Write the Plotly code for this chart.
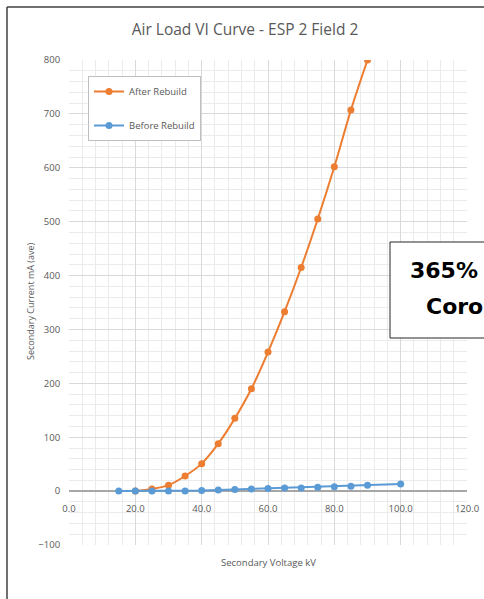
import plotly.graph_objects as go

after_x = [20, 25, 30, 35, 40, 45, 50, 55, 60, 65, 70, 75, 80, 85, 90]
after_y = [0, 4, 11, 28, 51, 88, 135, 190, 258, 333, 415, 505, 602, 707, 800]

before_x = [15, 20, 25, 30, 35, 40, 45, 50, 55, 60, 65, 70, 75, 80, 85, 90, 100]
before_y = [0, 0, 0, 0, 0, 1, 2, 3, 4, 5, 6, 6, 7, 8, 9, 11, 13]

x_ticks = [0, 20, 40, 60, 80, 100, 120]
y_ticks = [-100, 0, 100, 200, 300, 400, 500, 600, 700, 800]

FONT = "Open Sans"
GRAY = "#595959"

W, H = 484, 599
L, R, T, B = 69, 17, 60, 54
PW, PH = W - L - R, H - T - B


def px(x):
    return (x - L) / PW


def py(y):
    return (H - B - y) / PH


fig = go.Figure()
fig.add_trace(go.Scatter(
    x=after_x, y=after_y, name="After Rebuild", mode="lines+markers",
    line=dict(color="#ED7D31", width=2, shape="spline"),
    marker=dict(size=7, color="#ED7D31"), legendgroup="a"))
fig.add_trace(go.Scatter(
    x=before_x, y=before_y, name="Before Rebuild", mode="lines+markers",
    line=dict(color="#5B9BD5", width=2),
    marker=dict(size=7, color="#5B9BD5"), legendgroup="b"))

fig.update_layout(
    width=W, height=H,
    margin=dict(l=L, r=R, t=T, b=B, autoexpand=False),
    paper_bgcolor="white", plot_bgcolor="white",
    font=dict(family=FONT, color=GRAY, size=9),
    title=dict(text="Air Load VI Curve - ESP 2 Field 2", x=245 / W, xanchor="center",
               y=1 - 30 / H, yanchor="middle",
               font=dict(family=FONT, size=15.5, color=GRAY)),
    showlegend=True,
    legend=dict(x=px(88), y=py(76), xanchor="left", yanchor="top",
                bgcolor="white", bordercolor="#bfbfbf", borderwidth=1,
                font=dict(size=9.5, color=GRAY), tracegroupgap=15,
                itemwidth=30),
)

fig.update_xaxes(
    range=[0, 120], tickvals=x_ticks, tickformat=".1f",
    showgrid=True, gridcolor="#d9d9d9", gridwidth=1,
    minor=dict(dtick=4, showgrid=True, gridcolor="#ebebeb", gridwidth=1),
    zeroline=False, showline=False, automargin=False,
    ticks="outside", ticklen=8, tickcolor="rgba(0,0,0,0)",
    anchor="free", position=100 / 900,
    tickfont=dict(size=9.5, color=GRAY),
)
fig.update_yaxes(
    range=[-100, 800], tickvals=y_ticks,
    showgrid=True, gridcolor="#d9d9d9", gridwidth=1,
    minor=dict(dtick=20, showgrid=True, gridcolor="#ebebeb", gridwidth=1),
    zeroline=True, zerolinecolor="#a6a6a6", zerolinewidth=1.5,
    showline=False, automargin=False,
    ticks="outside", ticklen=6, tickcolor="rgba(0,0,0,0)",
    tickfont=dict(size=9.5, color=GRAY),
)

fig.add_annotation(text="Secondary Voltage kV", x=px(268), y=py(562),
                   xref="paper", yref="paper", showarrow=False,
                   font=dict(size=9.5, color=GRAY), xanchor="center", yanchor="middle")
fig.add_annotation(text="Secondary Current mA (ave)", x=px(30), y=py(302),
                   xref="paper", yref="paper", showarrow=False, textangle=-90,
                   font=dict(size=9, color=GRAY), xanchor="center", yanchor="middle")

# outer frame lines
fig.add_shape(type="line", xref="paper", yref="paper",
              x0=px(7), x1=px(W + 5), y0=py(7), y1=py(7),
              line=dict(color="#404040", width=1.5))
fig.add_shape(type="line", xref="paper", yref="paper",
              x0=px(7), x1=px(7), y0=py(7), y1=py(H + 5),
              line=dict(color="#404040", width=1.5))

# callout box (cut off at the right edge)
fig.add_shape(type="rect", xref="paper", yref="paper",
              x0=px(390), x1=px(W + 60), y0=py(338), y1=py(242),
              fillcolor="white", line=dict(color="#262626", width=1))
fig.add_annotation(text="<b>365%</b>", x=px(408), y=py(270),
                   xref="paper", yref="paper", showarrow=False,
                   xanchor="left", yanchor="middle",
                   font=dict(family="DejaVu Sans", size=22, color="black"))
fig.add_annotation(text="<b>Coro</b>", x=px(424), y=py(306),
                   xref="paper", yref="paper", showarrow=False,
                   xanchor="left", yanchor="middle",
                   font=dict(family="DejaVu Sans", size=22, color="black"))

fig.write_html("out.html", config={"displayModeBar": False},
               post_script="document.body.style.margin='0';")
